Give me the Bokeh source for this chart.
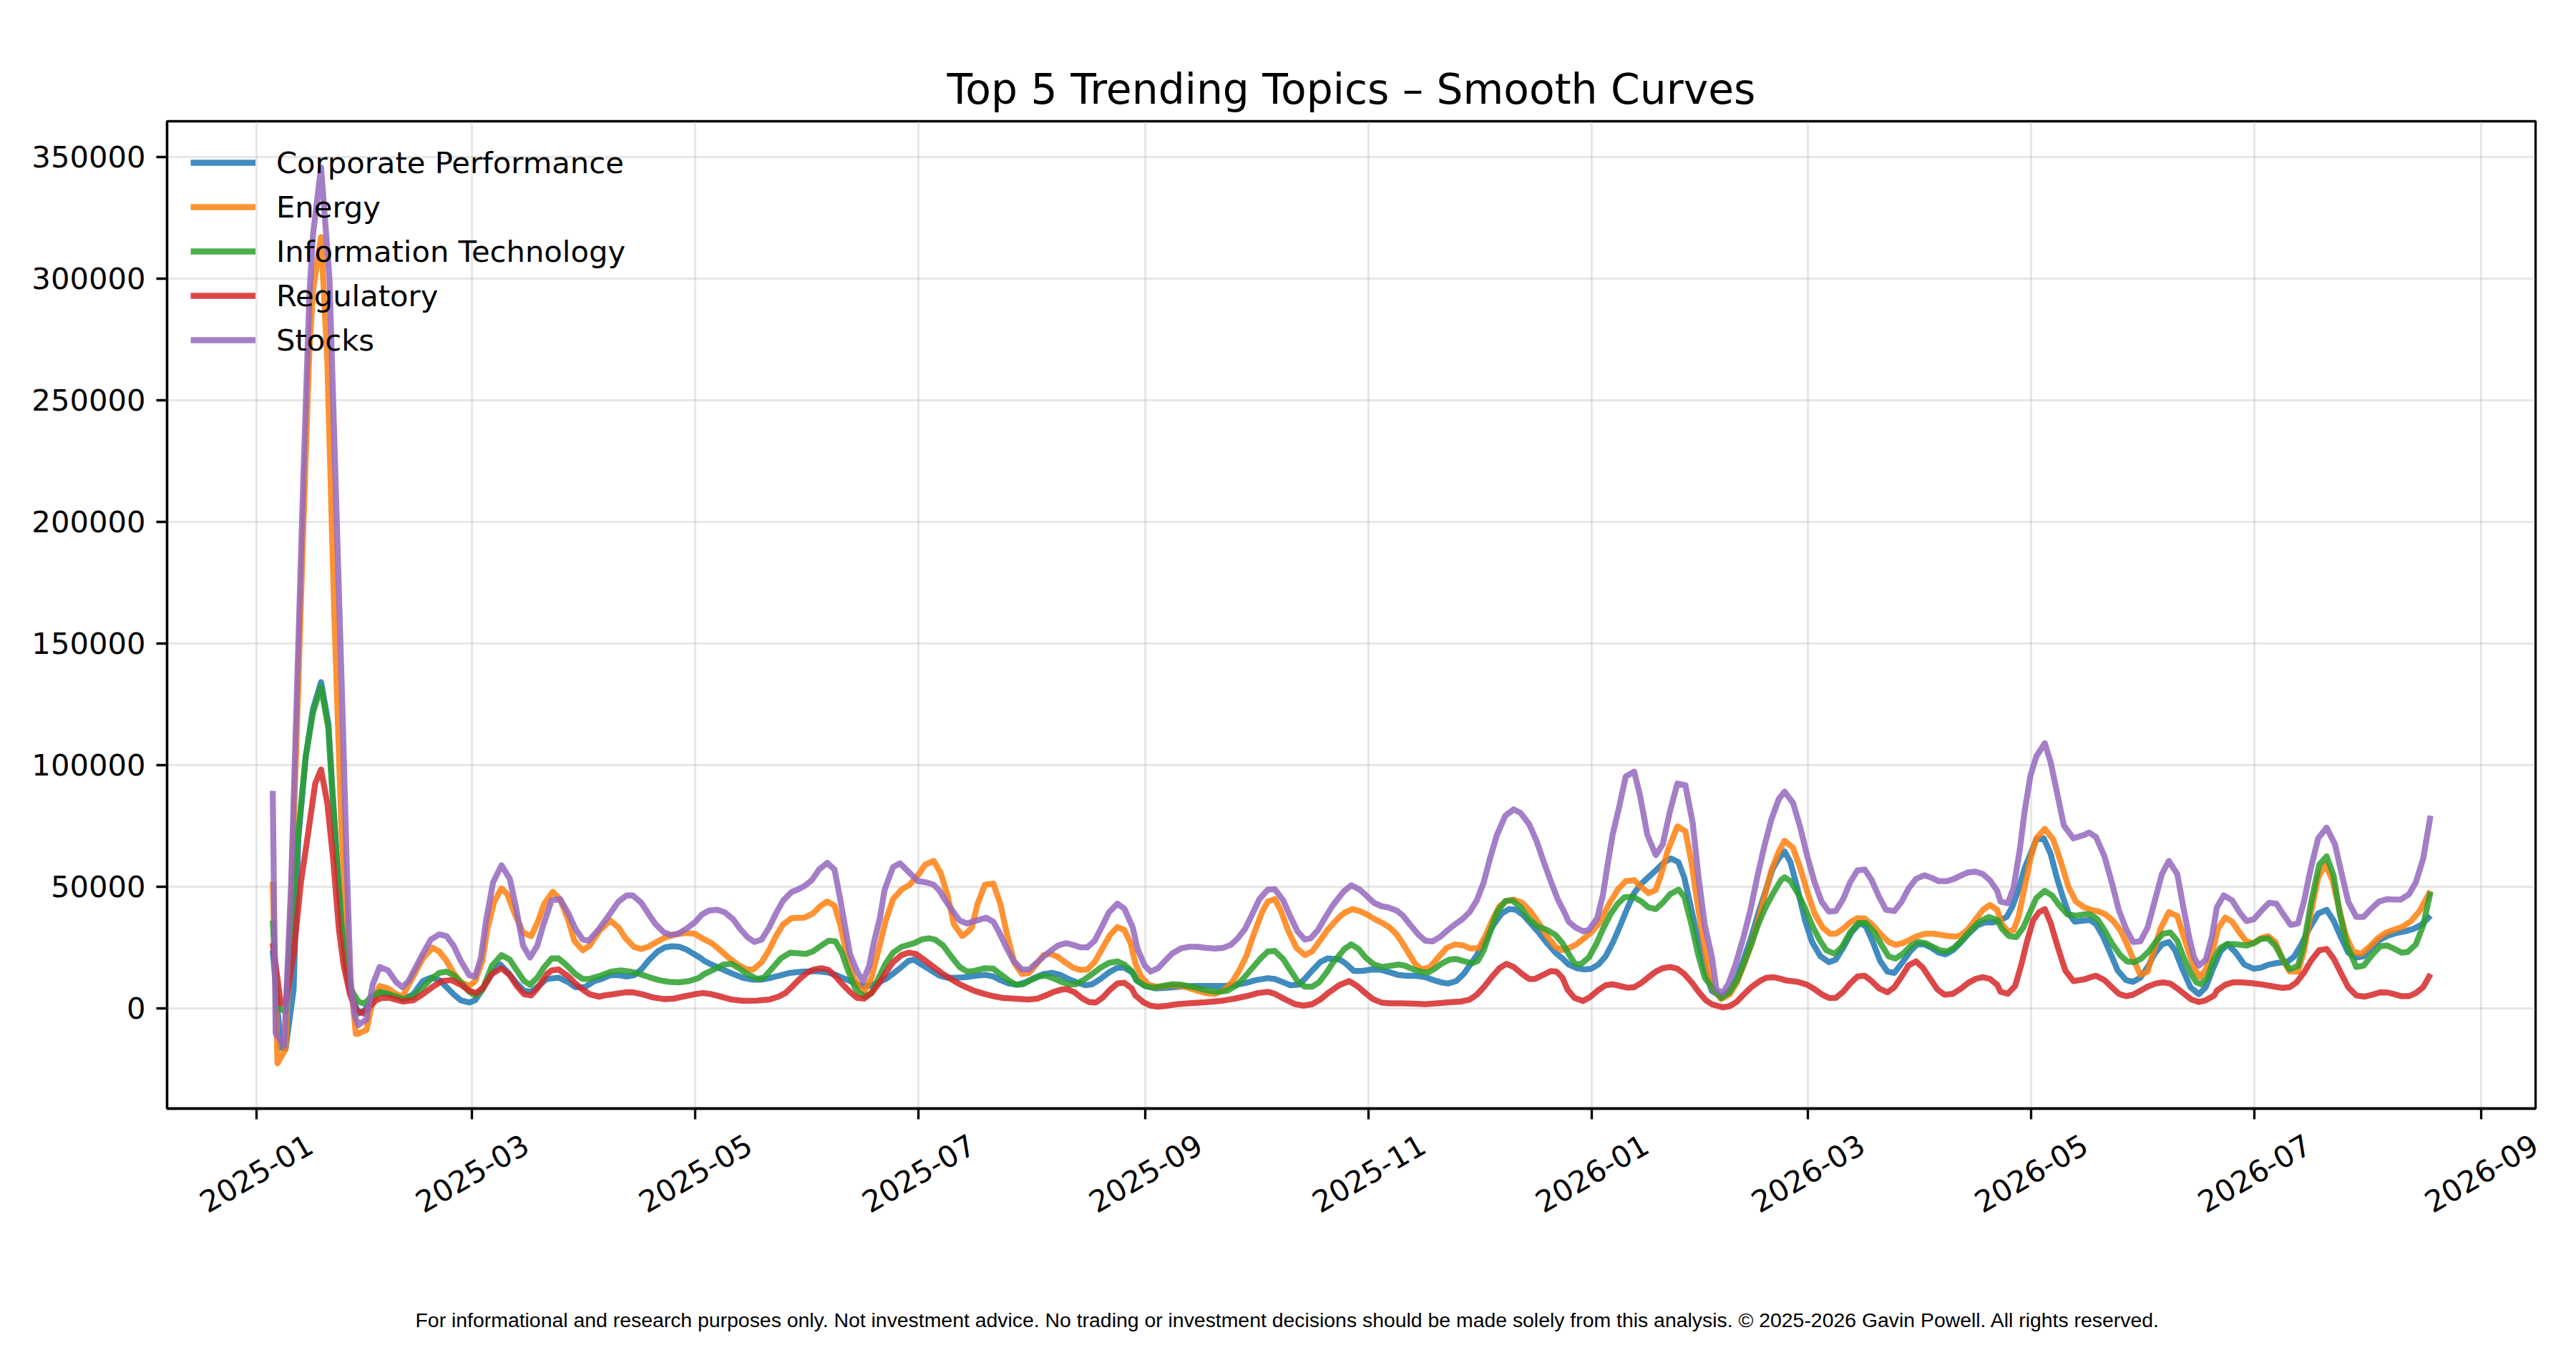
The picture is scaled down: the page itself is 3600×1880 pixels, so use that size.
import math

import pandas as pd
from bokeh.embed import file_html
from bokeh.layouts import column
from bokeh.models import (BasicTickFormatter, ColumnDataSource, CustomJSTickFormatter,
                          FixedTicker, Label, LinearAxis, Range1d)
from bokeh.plotting import figure
from bokeh.resources import INLINE

TITLE = "Top 5 Trending Topics – Smooth Curves"
FOOTER = ("For informational and research purposes only. Not investment advice. "
          "No trading or investment decisions should be made solely from this analysis. "
          "© 2025-2026 Gavin Powell. All rights reserved.")

DAY0 = pd.Timestamp("2025-01-01")

# (days since 2025-01-01, mentions)
CORPORATE = [
    (4.5, 23800), (6.7, -16300), (8.0, -16800), (10.2, 7600), (11.5, 70000), (13.5, 103000),
    (15.5, 123000), (17.7, 134000), (19.7, 117000), (20.7, 92000), (22.0, 62000), (23.3, 35000),
    (24.6, 16000), (25.9, 6000), (27.9, -2200), (29.8, -700), (31.8, 4200), (33.7, 6200),
    (36.3, 5700), (40.2, 3700), (42.9, 5700), (45.5, 11100), (47.7, 12500), (50.0, 11500),
    (52.0, 8600), (53.9, 5700), (55.9, 3200), (58.2, 2300), (59.8, 3200), (61.8, 7600),
    (64.4, 14500), (66.7, 17900), (68.9, 14500), (71.2, 10100), (73.2, 7100), (75.1, 6700),
    (77.1, 9100), (79.4, 12000), (82.6, 12500), (85.3, 10600), (87.2, 8600), (89.8, 8600),
    (92.4, 11100), (94.4, 12000), (96.7, 13500), (99.0, 13500), (101.2, 13000), (103.2, 13500),
    (105.2, 15900), (107.4, 19900), (109.7, 23300), (111.7, 25000), (113.6, 25400), (115.6, 25200),
    (117.5, 24100), (119.5, 22300), (121.5, 20500), (122.4, 19400), (125.1, 17400), (127.7, 15700),
    (130.3, 14000), (132.9, 12500), (135.5, 11700), (138.1, 11700), (140.7, 12500), (143.3, 13500),
    (145.9, 14500), (149.2, 15000), (153.1, 15200), (156.0, 14700), (158.3, 13700), (160.9, 12000),
    (163.2, 10600), (165.2, 9100), (167.1, 9100), (169.4, 10100), (172.0, 12000), (174.3, 14500),
    (176.3, 16900), (178.2, 19400), (179.8, 19900), (181.8, 17900), (184.4, 15500), (186.7, 13300),
    (189.0, 12500), (191.6, 12500), (194.2, 12800), (196.5, 13300), (199.1, 13700), (201.4, 13000),
    (203.3, 11500), (205.6, 10100), (207.9, 9600), (210.2, 10600), (212.8, 12500), (215.1, 14000),
    (217.4, 14500), (219.6, 13700), (221.9, 12000), (224.2, 10600), (226.5, 9400), (228.4, 9800),
    (230.7, 12000), (233.0, 14700), (235.3, 16600), (237.2, 16600), (239.5, 14500), (240.8, 11100),
    (243.1, 9100), (245.7, 8100), (249.0, 8400), (252.9, 8900), (256.8, 9100), (260.7, 9100),
    (264.6, 9100), (267.9, 9600), (270.5, 10400), (273.1, 11500), (276.4, 12300), (278.3, 12000),
    (280.3, 10800), (282.6, 9400), (284.9, 9600), (286.8, 12500), (288.8, 15900), (290.7, 18900),
    (292.7, 20400), (294.7, 20200), (296.0, 20000), (297.6, 18400), (299.9, 15300), (302.2, 15300),
    (304.8, 15900), (307.4, 15700), (309.7, 14700), (311.9, 13700), (314.2, 13300), (316.8, 13300),
    (319.4, 12700), (321.7, 11500), (323.7, 10600), (325.6, 10100), (327.9, 11100), (329.9, 14000),
    (331.5, 17400), (333.5, 21800), (335.7, 27700), (338.0, 34100), (340.3, 38900), (342.3, 40700),
    (344.2, 40400), (346.2, 38200), (348.1, 35000), (350.4, 31100), (352.7, 26700), (355.0, 22800),
    (356.9, 20400), (358.6, 17900), (360.9, 16400), (362.8, 15900), (364.8, 16200), (366.7, 17900),
    (368.7, 21300), (370.6, 26700), (372.6, 33600), (374.6, 40900), (376.5, 47300), (378.5, 51200),
    (380.8, 54400), (382.7, 57000), (384.7, 60000), (386.6, 61500), (388.6, 60000), (390.2, 53600),
    (391.8, 42900), (393.8, 29200), (395.8, 16400), (397.7, 7100), (400.3, 4700), (402.6, 7100),
    (404.6, 12500), (406.5, 20400), (408.5, 29200), (410.4, 38900), (412.4, 48200), (414.3, 57000),
    (416.0, 61500), (417.6, 64400), (419.2, 60000), (421.2, 48700), (423.2, 36000), (425.1, 27200),
    (427.4, 21300), (429.7, 18900), (431.6, 19900), (433.6, 24800), (435.9, 31100), (438.2, 35000),
    (439.8, 33600), (441.7, 27200), (443.7, 19400), (445.7, 15000), (447.6, 14500), (449.6, 18400),
    (451.9, 23300), (453.8, 26200), (455.8, 26200), (457.7, 24800), (459.7, 22800), (461.6, 22100),
    (463.6, 23800), (465.9, 27200), (468.2, 31100), (470.4, 34100), (472.4, 35200), (474.4, 35200),
    (476.3, 36000), (478.3, 37500), (479.9, 41900), (481.5, 48700), (483.2, 57500), (484.8, 63400),
    (486.4, 69300), (488.4, 69800), (490.3, 63400), (492.0, 53600), (493.6, 45800), (495.2, 38900),
    (496.9, 35500), (499.5, 36000), (501.1, 36200), (502.7, 34500), (504.7, 29200), (506.7, 22300),
    (508.6, 15500), (510.9, 11500), (512.8, 10800), (514.8, 12500), (516.8, 16900), (518.7, 22300),
    (520.7, 26200), (522.6, 27200), (524.3, 23800), (526.2, 16400), (528.5, 8600), (530.8, 5700),
    (532.7, 8600), (534.7, 16400), (536.7, 23300), (538.6, 26200), (540.9, 22800), (543.2, 17900),
    (545.8, 16200), (547.7, 16600), (550.0, 17900), (552.3, 18600), (554.9, 18900), (556.9, 21300),
    (558.8, 26200), (561.1, 33100), (563.4, 38900), (565.7, 40400), (567.6, 36000), (569.6, 29200),
    (571.6, 22800), (573.8, 20800), (575.8, 21300), (578.1, 25200), (580.4, 28200), (582.6, 29900),
    (584.9, 30900), (587.2, 31600), (589.5, 32600), (591.8, 34500), (594.1, 38000),
]

ENERGY = [
    (4.5, 52000), (5.8, -22700), (8.0, -16800), (10.9, 105000), (12.8, 195000), (14.5, 270000),
    (15.5, 295000), (17.7, 317000), (19.4, 266600), (21.3, 163000), (23.3, 72500), (25.2, 20700),
    (27.2, -10600), (27.9, -10500), (30.1, -9000), (31.8, 2700), (33.7, 9100), (36.0, 8100),
    (38.3, 5700), (39.9, 4700), (42.2, 11100), (45.5, 20400), (48.1, 24800), (50.0, 23300),
    (52.0, 19400), (53.9, 14500), (55.9, 10600), (58.2, 9100), (59.8, 11100), (61.8, 19400),
    (63.1, 32100), (65.0, 43800), (67.0, 49200), (68.6, 46800), (70.6, 38900), (72.9, 31100),
    (75.1, 29600), (76.8, 35000), (78.7, 42900), (81.0, 47800), (83.0, 44800), (85.3, 36000),
    (86.9, 27700), (89.2, 23800), (91.1, 25700), (93.7, 31600), (96.7, 36000), (99.0, 33100),
    (100.9, 28700), (103.2, 25200), (105.2, 24300), (107.1, 25200), (109.4, 27200), (112.0, 29200),
    (114.6, 30300), (117.2, 30900), (119.8, 30600), (121.8, 28700), (124.4, 26700), (126.4, 24300),
    (129.0, 20800), (131.6, 17900), (133.9, 15900), (135.8, 15900), (138.1, 18900), (140.1, 23800),
    (142.0, 29600), (144.0, 34500), (146.3, 37000), (149.8, 37200), (152.1, 38900), (154.1, 41900),
    (156.0, 43800), (158.0, 42100), (159.6, 34100), (161.3, 22300), (163.2, 12500), (164.8, 8600),
    (166.1, 6700), (168.1, 12500), (170.1, 24300), (172.0, 36000), (174.0, 44800), (176.3, 48700),
    (178.5, 50700), (180.8, 54600), (182.8, 59000), (185.1, 60500), (187.0, 55600), (189.0, 45800),
    (190.6, 34500), (192.9, 29600), (194.2, 31000), (195.5, 33100), (197.1, 42900), (199.1, 50700),
    (201.4, 51200), (203.3, 42900), (205.3, 29200), (207.2, 18400), (209.2, 14000), (211.2, 14500),
    (213.1, 17900), (215.1, 21800), (217.0, 22300), (219.0, 21100), (220.9, 18900), (223.2, 16600),
    (225.2, 15700), (227.1, 15900), (229.1, 18900), (231.1, 24300), (233.3, 30100), (235.3, 33300),
    (237.2, 32100), (238.9, 26700), (240.2, 18400), (241.8, 13000), (243.8, 9600), (246.4, 8600),
    (249.6, 9400), (252.9, 9100), (256.2, 7600), (259.4, 6200), (262.0, 5900), (264.6, 7600),
    (266.6, 10600), (268.6, 15500), (270.5, 21300), (272.5, 30100), (274.8, 39400), (276.4, 43800),
    (278.3, 44800), (280.0, 39900), (281.9, 32100), (284.2, 24800), (286.5, 21800), (288.5, 23300),
    (290.4, 27200), (292.7, 32100), (294.7, 35500), (296.0, 37500), (297.6, 39400), (299.5, 40700),
    (301.5, 39900), (303.5, 38500), (305.7, 36500), (307.7, 35000), (309.7, 33100), (311.6, 30300),
    (313.2, 26700), (315.2, 21800), (316.8, 17900), (318.5, 15900), (320.7, 16900), (322.7, 20400),
    (325.3, 24800), (327.6, 26200), (329.9, 25700), (331.8, 24500), (334.1, 24800), (335.7, 29200),
    (337.7, 36000), (339.7, 41900), (341.6, 44000), (343.6, 44600), (345.9, 43300), (348.1, 39900),
    (350.4, 35000), (352.7, 29600), (355.0, 25200), (356.9, 23800), (358.9, 24800), (360.9, 26400),
    (362.8, 28700), (364.8, 31100), (367.1, 35200), (369.3, 41900), (372.0, 48700), (374.2, 52200),
    (376.5, 52600), (378.5, 49700), (380.4, 47300), (382.4, 48500), (384.0, 55600), (385.6, 64400),
    (388.3, 74700), (390.5, 72700), (392.2, 59500), (393.8, 42900), (395.8, 24300), (397.7, 8500),
    (400.3, 3700), (402.6, 5700), (404.6, 10600), (406.5, 17900), (408.5, 26200), (410.4, 36000),
    (412.1, 45800), (414.0, 56600), (416.0, 64400), (417.6, 68800), (419.9, 65900), (421.9, 57500),
    (423.8, 47800), (425.8, 38900), (428.0, 33100), (430.0, 30600), (431.6, 30600), (433.6, 32600),
    (435.5, 35200), (437.5, 37000), (439.5, 36800), (441.7, 34100), (444.0, 30100), (446.0, 27200),
    (447.9, 26000), (449.9, 26700), (451.9, 28200), (453.8, 29600), (456.1, 30600), (458.4, 30600),
    (460.3, 30100), (462.3, 29600), (464.3, 29400), (465.9, 30100), (467.8, 32600), (469.8, 36500),
    (471.8, 40400), (473.7, 42400), (475.7, 40400), (477.0, 34500), (478.6, 31600), (480.2, 32100),
    (481.5, 37500), (483.2, 49700), (484.8, 61500), (486.4, 69800), (488.7, 73700), (491.0, 69300),
    (493.0, 60500), (495.2, 49700), (497.2, 43800), (499.5, 41400), (501.4, 40400), (503.4, 39700),
    (505.3, 38500), (507.3, 36000), (509.3, 32100), (510.9, 27200), (512.8, 20400), (514.8, 13700),
    (516.8, 15000), (518.4, 23300), (520.3, 32600), (522.6, 39400), (524.9, 37900), (526.5, 30100),
    (528.2, 22300), (529.8, 15500), (531.1, 12700), (532.7, 15900), (534.7, 24300), (536.0, 32600),
    (538.0, 37200), (539.9, 35500), (541.9, 31100), (543.8, 27400), (545.8, 26700), (547.7, 28700),
    (549.7, 29600), (551.7, 27200), (553.6, 20400), (555.6, 15000), (557.9, 15000), (559.5, 23300),
    (561.4, 38900), (563.4, 53600), (565.4, 59000), (567.3, 52600), (569.3, 39900), (570.9, 30100),
    (572.9, 23300), (575.1, 22300), (577.4, 25200), (579.7, 28700), (582.0, 31100), (584.3, 32300),
    (586.6, 33600), (588.8, 35800), (591.1, 39900), (594.1, 48200),
]

INFO_TECH = [
    (4.5, 36000), (5.8, 0), (8.0, -1200), (9.6, 33700), (11.5, 72300), (13.5, 103400),
    (15.5, 121600), (17.7, 132000), (19.7, 115000), (20.7, 90800), (22.0, 61400), (23.3, 35000),
    (24.6, 17400), (25.9, 7600), (27.9, 2700), (29.5, 1800), (31.1, 4200), (33.7, 6700),
    (36.3, 5700), (40.2, 3700), (42.9, 4700), (45.5, 8600), (47.7, 12000), (50.0, 14500),
    (52.0, 15000), (53.9, 13500), (55.9, 10600), (58.2, 6700), (59.8, 5200), (61.8, 7600),
    (64.4, 17400), (67.0, 21800), (69.3, 19900), (71.2, 15500), (73.2, 11100), (74.8, 9600),
    (76.8, 12500), (78.7, 16900), (80.7, 20400), (82.6, 20400), (84.6, 17900), (87.2, 14000),
    (89.2, 12000), (91.1, 12000), (94.4, 13500), (97.0, 15000), (99.6, 15500), (102.2, 15000),
    (104.8, 14000), (107.4, 12700), (110.0, 11500), (112.7, 10800), (115.3, 10600), (118.2, 11100),
    (120.8, 12300), (122.4, 14000), (125.1, 15900), (127.7, 17900), (129.9, 18200), (131.9, 16400),
    (134.2, 14000), (136.8, 12000), (138.7, 12500), (141.0, 16400), (143.3, 20400), (145.9, 22800),
    (150.2, 22300), (152.1, 23300), (154.4, 25700), (156.4, 27700), (158.3, 27400), (160.0, 22800),
    (161.6, 15900), (163.5, 8600), (164.8, 6200), (166.5, 4700), (168.1, 6200), (170.1, 12500),
    (172.0, 18400), (174.0, 22800), (176.3, 25200), (179.8, 26700), (181.8, 28200), (183.8, 28700),
    (185.4, 28200), (187.7, 25700), (190.3, 20400), (192.2, 16900), (194.2, 15000), (196.2, 15300),
    (199.1, 16400), (201.4, 16200), (203.3, 14000), (205.6, 11400), (207.6, 9600), (209.5, 9800),
    (211.5, 11400), (213.8, 13000), (215.7, 13300), (217.7, 12300), (220.0, 10800), (221.9, 9800),
    (223.9, 9800), (226.2, 11700), (228.4, 14000), (230.7, 16600), (233.0, 18600), (235.3, 19200),
    (237.2, 17900), (239.2, 15300), (240.5, 11400), (242.8, 9100), (245.1, 8400), (247.7, 9100),
    (250.3, 9800), (252.9, 9600), (256.2, 8600), (259.4, 7400), (262.7, 6700), (265.3, 7100),
    (267.6, 9100), (269.9, 12500), (272.1, 16400), (274.4, 20400), (276.4, 23300), (278.3, 23500),
    (280.6, 20200), (282.6, 15500), (284.5, 11100), (286.5, 8800), (288.5, 8800), (290.4, 10600),
    (292.4, 14500), (294.3, 18900), (296.0, 21800), (297.3, 24300), (299.2, 26200), (301.2, 24300),
    (303.1, 20800), (305.4, 17900), (307.7, 16900), (310.0, 17400), (312.3, 17900), (313.9, 17400),
    (316.2, 15900), (318.1, 15000), (320.1, 14500), (322.0, 16200), (324.0, 18400), (326.0, 19900),
    (327.9, 20200), (330.2, 19200), (332.2, 18400), (333.8, 19400), (335.4, 23800), (337.1, 31100),
    (339.0, 39400), (341.3, 44000), (343.2, 44300), (345.5, 41400), (347.8, 36500), (350.1, 33600),
    (352.7, 32100), (355.0, 30100), (356.9, 26700), (358.6, 22300), (360.2, 18400), (361.8, 17900),
    (364.1, 20800), (366.1, 26200), (368.0, 32600), (370.0, 38500), (372.0, 42900), (373.9, 45600),
    (376.2, 45800), (378.5, 43800), (380.4, 41400), (382.4, 40700), (384.3, 43300), (386.3, 46800),
    (388.6, 48700), (390.2, 45800), (392.2, 34100), (394.1, 21300), (395.8, 12500), (397.7, 8600),
    (400.3, 4200), (402.6, 6700), (404.6, 11500), (406.5, 18400), (408.5, 26200), (410.4, 34500),
    (412.4, 41400), (414.7, 47800), (416.6, 52600), (417.6, 53800), (419.2, 52200), (421.2, 47300),
    (423.2, 40900), (425.1, 34100), (427.1, 28200), (429.0, 23800), (431.3, 22300), (433.3, 25200),
    (435.5, 31100), (437.8, 35000), (439.8, 35000), (442.1, 31100), (444.0, 26200), (446.0, 21300),
    (447.9, 20400), (449.9, 22300), (452.2, 25700), (454.1, 27200), (456.1, 26700), (458.1, 25200),
    (460.0, 23800), (462.0, 23300), (463.9, 24800), (466.2, 28200), (468.5, 32100), (470.8, 35500),
    (473.4, 37500), (475.7, 36200), (477.0, 32600), (478.9, 29600), (480.9, 29200), (482.8, 33100),
    (484.5, 38900), (486.4, 45300), (488.7, 48200), (490.7, 46300), (492.6, 42400), (494.9, 38500),
    (497.2, 38000), (499.5, 38500), (501.1, 38500), (503.1, 36500), (505.0, 32100), (507.0, 26700),
    (509.3, 21800), (511.2, 19200), (513.2, 18900), (515.1, 20400), (517.1, 23300), (519.0, 27200),
    (521.0, 30600), (523.0, 31100), (524.9, 27700), (526.5, 21300), (528.5, 14500), (530.1, 10600),
    (531.4, 9800), (533.1, 12500), (535.0, 20400), (536.7, 24800), (538.6, 26400), (541.2, 26200),
    (543.8, 25700), (545.8, 26700), (547.7, 28400), (549.7, 28700), (551.7, 25700), (553.6, 20400),
    (555.6, 15900), (557.9, 17400), (559.5, 26200), (561.4, 42900), (563.7, 59000), (565.7, 62400),
    (567.6, 54600), (569.3, 38900), (571.2, 26200), (573.8, 16900), (575.8, 17400), (578.1, 21800),
    (580.4, 25400), (582.3, 25700), (584.3, 24300), (586.2, 22800), (587.9, 23100), (590.1, 26200),
    (592.1, 34100), (594.1, 47800),
]

REGULATORY = [
    (4.5, 26700), (6.7, 1800), (8.0, 2300), (10.2, 22300), (12.2, 51700), (14.2, 72200),
    (16.1, 92300), (17.7, 98100), (19.4, 84400), (21.0, 61400), (22.6, 32100), (23.9, 17400),
    (25.6, 5700), (27.2, -700), (29.2, -2200), (30.8, 300), (32.7, 3200), (34.4, 4200),
    (36.3, 4200), (40.2, 2700), (42.9, 3200), (45.5, 5700), (48.1, 8600), (50.7, 11100),
    (53.3, 11500), (55.9, 9600), (58.2, 7100), (60.1, 6200), (62.1, 8600), (64.4, 14000),
    (67.0, 16400), (69.3, 13500), (71.2, 9100), (73.2, 5700), (75.1, 5200), (77.1, 8600),
    (79.4, 14000), (80.7, 15500), (82.6, 15900), (85.3, 13000), (87.2, 10100), (89.2, 7600),
    (91.1, 5700), (93.7, 4700), (95.0, 5200), (97.7, 5700), (100.9, 6500), (102.9, 6500),
    (105.5, 5700), (108.1, 4500), (111.4, 3700), (114.0, 3900), (117.2, 4900), (119.8, 5700),
    (122.1, 6200), (124.4, 5700), (127.0, 4700), (129.9, 3500), (132.9, 3000), (136.8, 3100),
    (140.1, 3500), (142.7, 4700), (144.6, 6200), (146.6, 9100), (148.5, 12000), (150.5, 14500),
    (152.4, 15900), (154.4, 16400), (156.4, 15700), (158.3, 13000), (160.3, 9600), (162.2, 6700),
    (164.2, 4200), (166.1, 3900), (168.1, 6200), (170.1, 10100), (172.0, 14500), (174.0, 18900),
    (176.3, 21800), (178.2, 22800), (180.2, 22300), (182.5, 19900), (185.1, 16900), (187.7, 14000),
    (190.3, 11500), (192.2, 9800), (194.2, 8400), (196.2, 7100), (198.8, 5900), (201.4, 4900),
    (204.0, 4200), (207.2, 3900), (210.8, 3500), (213.4, 3900), (215.7, 5200), (218.0, 6700),
    (220.0, 7600), (221.6, 7800), (223.6, 6500), (225.5, 4200), (227.5, 2500), (229.4, 2300),
    (231.4, 4500), (233.3, 7600), (235.3, 10100), (237.2, 10400), (239.2, 8100), (240.2, 5200),
    (242.5, 2300), (244.4, 1000), (246.4, 600), (249.0, 1000), (251.6, 1600), (254.9, 2000),
    (259.4, 2400), (263.3, 2900), (267.3, 3900), (270.5, 4900), (273.8, 6200), (276.4, 6700),
    (278.3, 5900), (281.0, 3700), (283.9, 1600), (286.2, 1000), (288.5, 1600), (290.7, 3500),
    (293.3, 6700), (296.0, 9500), (298.6, 11100), (300.8, 9100), (302.8, 6500), (305.1, 3700),
    (307.4, 2300), (309.7, 2000), (312.9, 2000), (316.2, 1800), (319.4, 1600), (322.7, 2000),
    (326.0, 2400), (329.2, 2700), (331.5, 3500), (333.5, 5500), (335.4, 8600), (337.7, 13000),
    (339.7, 16400), (341.6, 18200), (343.6, 16900), (345.9, 14000), (347.8, 12000), (349.4, 12000),
    (351.7, 13700), (353.7, 15200), (355.3, 15000), (356.9, 12500), (358.3, 7600), (360.2, 4200),
    (362.5, 2900), (364.4, 4500), (366.7, 7400), (368.7, 9400), (370.6, 9800), (372.6, 9100),
    (374.6, 8400), (376.5, 8600), (378.5, 10400), (380.4, 12700), (382.4, 15000), (384.3, 16400),
    (386.3, 16900), (388.3, 16200), (390.2, 14000), (392.2, 10600), (394.1, 6700), (396.1, 3200),
    (397.7, 1600), (400.7, 300), (402.6, 800), (404.6, 2700), (406.5, 5700), (408.5, 8600),
    (410.8, 11100), (412.7, 12500), (414.7, 12700), (416.6, 12000), (417.9, 11400), (421.2, 10800),
    (423.8, 9600), (425.8, 7800), (427.7, 5700), (429.7, 4200), (431.6, 4200), (433.6, 6700),
    (435.5, 10100), (437.5, 13000), (439.5, 13300), (441.4, 11100), (443.4, 8100), (445.7, 6500),
    (447.6, 8600), (449.6, 13000), (451.5, 17600), (453.5, 19200), (455.4, 16600), (457.4, 12000),
    (459.4, 7600), (461.3, 5500), (463.6, 5900), (465.9, 8100), (467.8, 10400), (469.8, 12000),
    (471.8, 12700), (473.7, 12000), (475.7, 9600), (476.6, 6700), (478.6, 5900), (480.6, 9100),
    (482.2, 17400), (483.8, 27200), (485.5, 36000), (487.1, 39400), (488.7, 40700), (490.3, 35000),
    (492.3, 24800), (494.3, 15500), (496.5, 11100), (499.5, 11800), (500.8, 12500), (502.7, 13300),
    (505.0, 11500), (507.0, 8600), (508.9, 5900), (510.9, 4900), (512.8, 5500), (514.8, 7100),
    (516.8, 8800), (519.0, 10100), (521.0, 10600), (523.0, 10100), (524.9, 8100), (526.9, 5700),
    (528.8, 3500), (530.8, 2500), (532.7, 3200), (535.0, 5200), (535.7, 7100), (538.0, 9600),
    (540.2, 10600), (542.5, 10600), (545.1, 10300), (547.7, 9800), (550.4, 9100), (553.6, 8300),
    (555.6, 8600), (557.5, 10600), (559.5, 14500), (561.4, 19400), (563.7, 23800), (565.7, 24300),
    (567.6, 20400), (569.6, 14500), (571.6, 8600), (573.8, 5200), (576.1, 4700), (578.1, 5500),
    (580.4, 6500), (582.3, 6400), (584.3, 5700), (586.2, 4900), (588.2, 4900), (590.1, 6200),
    (592.1, 8600), (594.1, 14000),
]

STOCKS = [
    (4.5, 89300), (5.3, -10400), (7.6, -15500), (9.5, 50000), (10.9, 120000), (12.8, 214900),
    (14.5, 292500), (15.5, 318000), (17.7, 345600), (20.0, 300000), (21.7, 215000), (23.6, 120000),
    (24.7, 60000), (25.8, 10000), (26.9, -3000), (27.9, -7000), (30.1, -4600), (31.8, 9600),
    (33.7, 16900), (36.0, 15500), (38.3, 10600), (39.9, 8600), (41.6, 11100), (45.5, 22300),
    (47.7, 28200), (50.0, 30300), (52.0, 29600), (53.9, 25700), (55.9, 19400), (58.2, 13500),
    (59.8, 13000), (61.4, 20800), (62.8, 36000), (64.7, 51700), (67.0, 58700), (69.3, 53100),
    (70.9, 41900), (72.9, 25700), (74.8, 20800), (76.8, 25700), (78.4, 34000), (80.7, 44300),
    (83.0, 44800), (85.3, 38900), (87.2, 32600), (89.2, 28200), (90.8, 27700), (93.7, 32600),
    (96.7, 38900), (99.0, 43800), (101.2, 46300), (102.9, 46300), (105.2, 43300), (107.1, 38900),
    (109.1, 34500), (111.4, 31100), (113.3, 30100), (115.3, 30600), (117.5, 32600), (119.8, 35200),
    (121.8, 38500), (123.7, 40100), (126.0, 40400), (128.0, 39400), (130.3, 36500), (132.2, 32600),
    (134.2, 29200), (136.1, 27200), (138.1, 28200), (140.1, 33100), (142.0, 38900), (144.0, 44300),
    (146.3, 47800), (147.9, 48700), (149.8, 50200), (151.8, 52600), (153.8, 57000), (156.0, 59700),
    (158.0, 57000), (159.3, 46800), (160.6, 36000), (162.2, 22300), (164.2, 15000), (165.8, 11100),
    (167.5, 17400), (168.8, 27200), (170.4, 37000), (171.7, 48700), (174.0, 58000), (175.9, 59500),
    (178.5, 55600), (180.8, 52200), (183.1, 51700), (185.1, 50700), (186.7, 48200), (188.3, 44300),
    (190.3, 39900), (192.2, 36000), (194.2, 34800), (196.8, 36000), (199.4, 37200), (201.4, 35500),
    (203.0, 31100), (205.0, 24800), (206.9, 19400), (209.2, 15900), (211.2, 15900), (213.8, 19400),
    (216.4, 22800), (219.0, 25700), (221.3, 26700), (223.2, 26000), (225.2, 25000), (227.1, 25000),
    (229.1, 27700), (231.1, 33600), (233.0, 39400), (235.3, 42900), (237.2, 40900), (239.5, 33100),
    (240.8, 24300), (242.8, 17400), (244.4, 15000), (246.4, 16400), (248.3, 19400), (250.3, 22500),
    (252.6, 24500), (254.9, 25200), (257.1, 25200), (259.4, 24800), (262.0, 24500), (264.3, 24800),
    (266.3, 26000), (268.2, 28700), (270.2, 32600), (272.1, 38500), (274.1, 44800), (276.4, 48700),
    (278.3, 48900), (280.6, 44300), (282.6, 37500), (284.5, 31600), (286.5, 28200), (288.1, 28700),
    (290.1, 32100), (292.0, 37000), (294.0, 41900), (296.0, 45800), (297.3, 48200), (299.2, 50500),
    (301.5, 48700), (303.5, 46000), (305.4, 43300), (307.4, 41900), (309.3, 41400), (311.6, 40100),
    (313.2, 38200), (315.2, 34500), (317.5, 30300), (319.4, 27700), (321.4, 27400), (323.4, 29200),
    (325.6, 32100), (327.6, 34500), (329.5, 36500), (331.5, 39400), (333.5, 44300), (335.4, 51700),
    (337.1, 61500), (339.0, 71200), (341.3, 79100), (343.6, 81700), (345.5, 80200), (347.8, 75600),
    (349.8, 68800), (351.7, 60500), (353.7, 52200), (355.6, 44800), (357.6, 38900), (358.6, 35500),
    (360.5, 33100), (362.5, 31600), (364.1, 32100), (366.4, 37000), (368.0, 46800), (369.3, 59500),
    (370.6, 71200), (372.3, 82000), (374.2, 95200), (376.5, 97200), (378.1, 87400), (380.1, 71200),
    (382.4, 62900), (384.3, 67300), (386.3, 81000), (388.3, 92300), (390.5, 91600), (392.5, 76100),
    (394.1, 53600), (395.8, 34100), (397.7, 21300), (399.0, 7600), (400.7, 6200), (402.3, 10100),
    (404.2, 17900), (406.2, 28200), (408.2, 39900), (410.1, 53600), (412.1, 66800), (414.0, 77600),
    (416.0, 85900), (417.6, 89000), (419.9, 84400), (421.9, 74200), (423.8, 62400), (425.8, 51700),
    (427.7, 43800), (429.7, 39700), (431.6, 39900), (433.6, 44800), (435.5, 51700), (437.5, 56600),
    (439.5, 57000), (441.4, 52600), (443.4, 45800), (445.3, 40400), (447.6, 39900), (449.6, 43800),
    (451.5, 49200), (453.5, 53100), (455.8, 54600), (457.7, 53600), (459.7, 52200), (462.0, 52200),
    (463.9, 53100), (465.9, 54600), (467.8, 55800), (469.8, 56100), (471.8, 55100), (473.7, 52600),
    (475.7, 48200), (476.6, 43800), (478.6, 43100), (480.2, 49700), (481.9, 65400), (483.2, 81000),
    (484.8, 95700), (486.4, 103500), (488.7, 108900), (490.3, 101100), (492.0, 88900), (493.9, 75100),
    (496.5, 69800), (499.5, 71200), (500.8, 72200), (502.7, 70300), (505.0, 62400), (507.0, 51700),
    (508.9, 40400), (510.9, 32600), (512.8, 27200), (514.8, 27400), (516.8, 33100), (518.7, 43800),
    (520.7, 55100), (522.6, 60500), (524.9, 55100), (526.5, 41900), (528.2, 28700), (529.5, 20800),
    (530.8, 17400), (532.7, 19900), (534.4, 29600), (535.7, 41400), (537.6, 46300), (539.9, 44300),
    (541.9, 39400), (543.8, 35800), (545.8, 36500), (548.1, 40400), (550.0, 43300), (552.0, 42900),
    (553.9, 38500), (555.9, 34200), (557.9, 34800), (559.5, 43800), (561.4, 57500), (563.4, 69800),
    (565.7, 74200), (568.0, 67300), (569.6, 56600), (571.6, 43800), (573.8, 37500), (575.8, 37500),
    (577.8, 40700), (580.0, 43800), (582.3, 44800), (584.3, 44600), (585.9, 44600), (588.2, 46800),
    (590.1, 51700), (592.1, 61500), (594.1, 79100),
]

SERIES = [
    ("Corporate Performance", CORPORATE, "#1f77b4"),
    ("Energy", ENERGY, "#ff7f0e"),
    ("Information Technology", INFO_TECH, "#2ca02c"),
    ("Regulatory", REGULATORY, "#d62728"),
    ("Stocks", STOCKS, "#9467bd"),
]

X_TICK_LABELS = ["2025-01", "2025-03", "2025-05", "2025-07", "2025-09", "2025-11",
                 "2026-01", "2026-03", "2026-05", "2026-07", "2026-09"]
Y_TICKS = [0, 50000, 100000, 150000, 200000, 250000, 300000, 350000]

FONT = "DejaVu Sans"
TICK_SIZE = "41.7px"
FRAME_W = 3310

p = figure(
    frame_width=FRAME_W, frame_height=1380,
    x_axis_type="datetime",
    x_range=Range1d((DAY0 - pd.Timedelta(days=24.37)).to_pydatetime(),
                    (DAY0 + pd.Timedelta(days=622.8)).to_pydatetime()),
    y_range=Range1d(-41300, 364600),
    output_backend="svg", toolbar_location=None,
    min_border_left=233, min_border_right=41, min_border_top=169, min_border_bottom=200,
    background_fill_color="white", border_fill_color="white",
)

for name, points, color in SERIES:
    days = [d for d, _ in points]
    vals = [v for _, v in points]
    src = ColumnDataSource(dict(x=(DAY0 + pd.to_timedelta(days, unit="D")).to_numpy(), y=vals))
    p.line("x", "y", source=src, line_color=color, line_width=8.3, line_alpha=0.85,
           line_join="round", legend_label=name)

# title
p.title.text = TITLE
p.title.align = "center"
p.title.text_font = FONT
p.title.text_font_size = "58.3px"
p.title.text_font_style = "normal"
p.title.text_color = "black"
p.title.standoff = 22

# frame and axes
p.outline_line_color = "black"
p.outline_line_width = 3.3
p.outline_line_alpha = 1.0

x_axis = p.xaxis[0]
y_axis = p.yaxis[0]

tick_dates = pd.to_datetime([t + "-01" for t in X_TICK_LABELS])
tick_ms = [ts.timestamp() * 1000 for ts in tick_dates]
x_axis.ticker = FixedTicker(ticks=tick_ms)
x_axis.formatter = CustomJSTickFormatter(code="return ''")
x_axis.major_label_text_font_size = "0px"
x_axis.major_label_standoff = 0
y_axis.ticker = FixedTicker(ticks=Y_TICKS)
y_axis.formatter = BasicTickFormatter(use_scientific=False)
y_axis.major_label_text_font = FONT
y_axis.major_label_text_font_size = TICK_SIZE
y_axis.major_label_text_color = "black"
y_axis.major_label_standoff = 15

for ax in (x_axis, y_axis):
    ax.axis_line_color = "black"
    ax.axis_line_width = 3.3
    ax.major_tick_line_color = "black"
    ax.major_tick_line_width = 3.3
    ax.major_tick_out = 15
    ax.major_tick_in = 0
    ax.minor_tick_line_color = None
    ax.minor_tick_out = 0
    ax.minor_tick_in = 0

# matplotlib-style rotated date labels, centred under each tick: Bokeh anchors a
# rotated label at its right end, so this label-only axis sits half a label to the right
half_label_days = 14.74
label_axis = LinearAxis(
    ticker=FixedTicker(ticks=[t + half_label_days * 86400000 for t in tick_ms]),
    formatter=CustomJSTickFormatter(args=dict(labels=X_TICK_LABELS), code="return labels[index]"),
    axis_line_color=None, major_tick_line_color=None, minor_tick_line_color=None,
    major_tick_out=0, major_tick_in=0, minor_tick_out=0, minor_tick_in=0,
    major_label_orientation=math.pi / 6, major_label_standoff=32,
    major_label_text_font=FONT, major_label_text_font_size=TICK_SIZE,
    major_label_text_color="black",
)
p.add_layout(label_axis, "below")

for grid in (p.xgrid, p.ygrid):
    grid.grid_line_color = "#b0b0b0"
    grid.grid_line_alpha = 0.3
    grid.grid_line_width = 3

# legend
p.legend.location = "top_left"
p.legend.margin = 33
p.legend.padding = 16
p.legend.glyph_width = 91
p.legend.glyph_height = 50
p.legend.label_height = 50
p.legend.spacing = 12
p.legend.label_standoff = 29
p.legend.label_text_font = FONT
p.legend.label_text_font_size = TICK_SIZE
p.legend.label_text_color = "black"
p.legend.border_line_color = None
p.legend.background_fill_alpha = 0

# footer disclaimer in a strip under the chart; the column lines its frame up with the
# chart frame, so x is measured from the chart frame's left edge
footer_h = 123
footer = figure(width=3584, height=footer_h, x_range=Range1d(0, FRAME_W), y_range=Range1d(0, footer_h),
                x_axis_location=None, y_axis_location=None, toolbar_location=None,
                output_backend="svg", min_border=0, outline_line_color=None,
                background_fill_color="white", border_fill_color="white")
footer.xgrid.visible = False
footer.ygrid.visible = False
footer.add_layout(Label(x=1566, y=28, text=FOOTER, text_align="center", text_baseline="middle",
                        text_font="Liberation Sans", text_font_size="28.4px", text_color="black"))

layout = column(p, footer, spacing=0)

open("out.html", "w").write(file_html(layout, INLINE))
